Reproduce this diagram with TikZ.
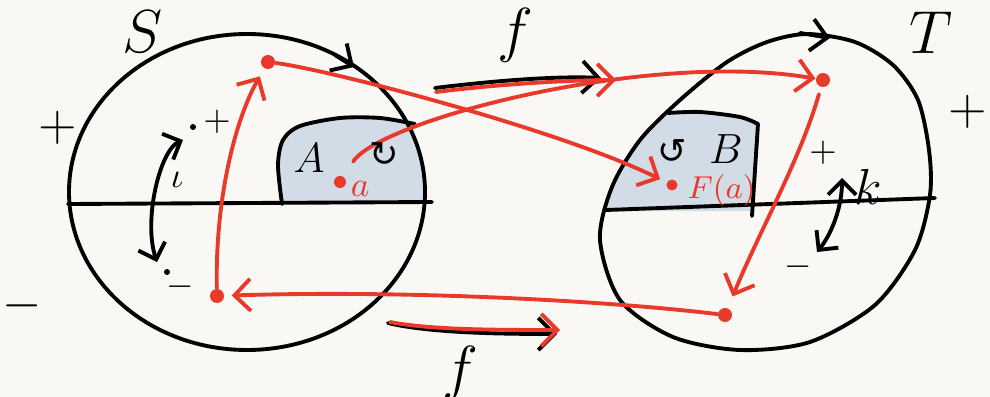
\documentclass[tikz,border=0pt]{standalone}
\usepackage{fontspec}
\newfontfamily\symbolfont{DejaVu Sans}
\usepackage{xcolor}
\usetikzlibrary{arrows.meta, positioning, calc}

\definecolor{sketchred}{HTML}{E8392B}
\definecolor{regionblue}{HTML}{D2DCE7}
\definecolor{paper}{HTML}{FAF8F4}

% outline of the set T (used to draw and to clip)
\newcommand{\targetoutline}{plot[smooth cycle] coordinates {(600,240) (612,187) (640,140) (680,100) (727,62) (767,42) (807,34) (855,42) (893,65) (918,100) (929,150) (930,195) (915,250) (875,305) (810,342) (740,350) (673,337) (620,300)}}

\begin{document}
\begin{tikzpicture}[x=0.01cm, y=-0.01cm,
    ink/.style={line width=1.1pt, line cap=round, line join=round},
    tip/.style={-{Straight Barb[length=1.6mm, width=3.2mm]}},
    redarrow/.style={ink, sketchred, tip},
    blackarrow/.style={ink, tip},
    swaparrow/.style={ink, {Straight Barb[length=1.4mm, width=2.8mm]}-{Straight Barb[length=1.4mm, width=2.8mm]}},
    dot/.style={circle, fill=sketchred, inner sep=0pt, minimum size=1.4mm},
    smalldot/.style={circle, fill=black, inner sep=0pt, minimum size=0.6mm},
    txt/.style={inner sep=0pt, font=\Large}
]
\fill[paper] (0,0) rectangle (990,397);
\useasboundingbox (0,0) rectangle (990,397);

% shaded regions A and B
\begin{scope}
  \clip (247,192) ellipse [x radius=178, y radius=158];
  \fill[regionblue] (282,204) -- plot[smooth] coordinates {(282,204) (278,165) (283,140) (300,126) (340,118) (380,118) (415,124) (445,130)} -- (445,204) -- cycle;
\end{scope}
\begin{scope}
  \clip \targetoutline;
  \fill[regionblue] (590,211) -- (590,113) -- plot[smooth] coordinates {(668,113) (700,112) (740,117) (758,124)} -- (752,211) -- cycle;
\end{scope}

% sets S and T
\draw[ink] (247,192) ellipse [x radius=178, y radius=158];
\draw[ink] \targetoutline;
\draw[ink] (68,204) -- (432,202);
\draw[ink] (606,210) -- (935,198);
\draw[ink] plot[smooth] coordinates {(282,204) (278,165) (283,140) (300,126) (340,118) (380,118) (415,124)};
\draw[ink] plot[smooth] coordinates {(668,113) (700,112) (740,117) (758,124)} -- (752,216);
\draw[blackarrow] (335,55) -- (354,67);
\draw[blackarrow] (800,33) -- (830,38);

% points
\node[dot] (stop) at (268,62) {};
\node[dot] (sbottom) at (217,296) {};
\node[dot, minimum size=1.2mm] (adot) at (340,182) {};
\node[dot] (ttop) at (823,80) {};
\node[dot, minimum size=1.1mm] (fadot) at (672,185) {};
\node[dot] (tbottom) at (725,315) {};
\node[txt, font=\normalsize, text=sketchred, right=1pt of adot, yshift=-2pt] (alabel) {$a$};
\node[txt, font=\small, text=sketchred, right=2.5pt of fadot, yshift=-1.5pt] (falabel) {$F(a)$};

% the maps f
\coordinate (ftopstart) at (435,88);
\coordinate (ftopend) at (601,78);
\coordinate (fbotstart) at (388,323);
\coordinate (fbotend) at (557,334);
\draw[blackarrow] (ftopstart) .. controls (500,80) and (560,76) .. (ftopend);
\draw[redarrow] ($(ftopstart)+(1,4)$) .. controls (500,84) and (570,80) .. ($(ftopend)+(15,2)$);
\draw[blackarrow] (fbotstart) .. controls (430,333) and (500,334) .. (fbotend);
\draw[redarrow] ($(fbotstart)+(2,-1)$) .. controls (430,330) and (500,330) .. ($(fbotend)+(3,-4)$);
\node[txt, font=\LARGE] (ftop) at (515,35) {$f$};
\node[txt, font=\LARGE] (fbot) at (460,373) {$f$};

% red paths
\draw[redarrow, shorten <=5pt] (adot) .. controls (380,120) and (650,50) .. (ttop);
\draw[redarrow, shorten >=2pt] (stop) .. controls (330,70) and (560,130) .. (fadot);
\draw[redarrow, shorten <=2pt, shorten >=3.5pt] (ttop) .. controls (800,160) and (760,230) .. (tbottom);
\draw[redarrow, shorten >=2pt] (tbottom) .. controls (600,300) and (400,290) .. (sbottom);
\draw[redarrow, shorten >=2.5pt] (sbottom) .. controls (215,200) and (235,120) .. (stop);

% involutions
\coordinate (iotatop) at (183,140);
\coordinate (iotabottom) at (157,262);
\coordinate (ktop) at (842,178);
\coordinate (kbottom) at (817,252);
\draw[swaparrow] (iotatop) .. controls (160,150) and (143,220) .. (iotabottom);
\draw[swaparrow] (ktop) .. controls (842,205) and (833,232) .. (kbottom);
\node[txt, font=\normalsize] (iotalabel) at (177,180) {$\iota$};
\node[txt] (klabel) at (868,187) {$k$};
\node[smalldot] (plusdot) at (193,127) {};
\node[txt, font=\normalsize] (splus) at (217,122) {$+$};
\node[smalldot] (minusdot) at (167,272) {};
\node[txt, font=\normalsize] (sminus) at (180,287) {$-$};
\node[txt, font=\normalsize] (tplus) at (823,153) {$+$};
\node[txt, font=\normalsize] (tminus) at (798,267) {$-$};

% labels
\node[txt, font=\LARGE] (slabel) at (143,32) {$S$};
\node[txt, font=\LARGE] (tlabel) at (931,33) {$T$};
\node[txt] (leftplus) at (58,128) {$+$};
\node[txt] (leftminus) at (22,306) {$-$};
\node[txt] (rightplus) at (968,112) {$+$};
\node[txt, font=\large] (alab) at (309,158) {$A$};
\node[txt, font=\large] (blab) at (726,149) {$B$};
\node[txt, font=\symbolfont] (arot) at (384,155) {↻};
\node[txt, font=\symbolfont] (brot) at (672,152) {↺};
\end{tikzpicture}
\end{document}
